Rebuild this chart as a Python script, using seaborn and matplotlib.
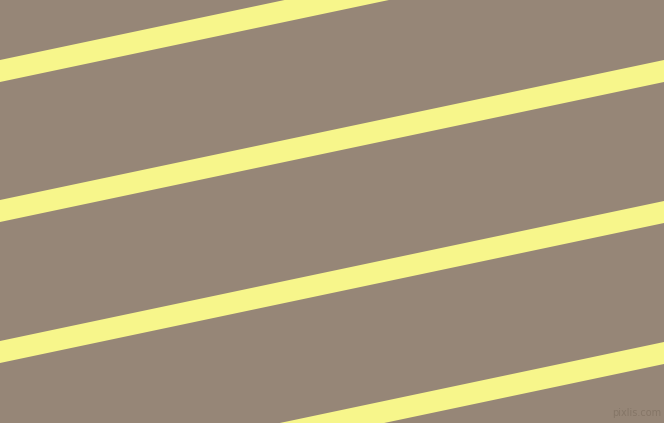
import pandas as pd
import seaborn as sns
import matplotlib.pyplot as plt

# Stripe centre lines (pixel coords, y measured from top)
x_ends = [0, 664]
stripe_left_y = [71, 211, 352, 493]
stripe_right_y = [-69, 71, 212, 353]

bg_color = "#968677"
stripe_color = "#f7f68b"
half_width = 11  # vertical half thickness of a stripe, px

rows = []
for i, (yl, yr) in enumerate(zip(stripe_left_y, stripe_right_y)):
    rows.append({"stripe": i, "x": x_ends[0], "y": yl})
    rows.append({"stripe": i, "x": x_ends[1], "y": yr})
df = pd.DataFrame(rows)

sns.set_style("white")
fig = plt.figure(figsize=(6.64, 4.23), dpi=100)
fig.patch.set_facecolor(bg_color)
ax = fig.add_axes([0, 0, 1, 1])
ax.set_facecolor(bg_color)

# thick lines get cut at the canvas edge by agg, so fill bands around the centre lines
for i, g in df.groupby("stripe"):
    ax.fill_between(g["x"], g["y"] - half_width, g["y"] + half_width,
                    color=stripe_color, linewidth=0)
sns.lineplot(data=df, x="x", y="y", units="stripe", estimator=None,
             color=stripe_color, linewidth=1, ax=ax, legend=False)

ax.set_xlim(0, 664)
ax.set_ylim(423, 0)
ax.axis("off")

ax.text(637, 413, "pixlis.com", color="#857667", fontsize=7,
        ha="center", va="center")

fig.savefig("out.png", dpi=100, facecolor=bg_color)
